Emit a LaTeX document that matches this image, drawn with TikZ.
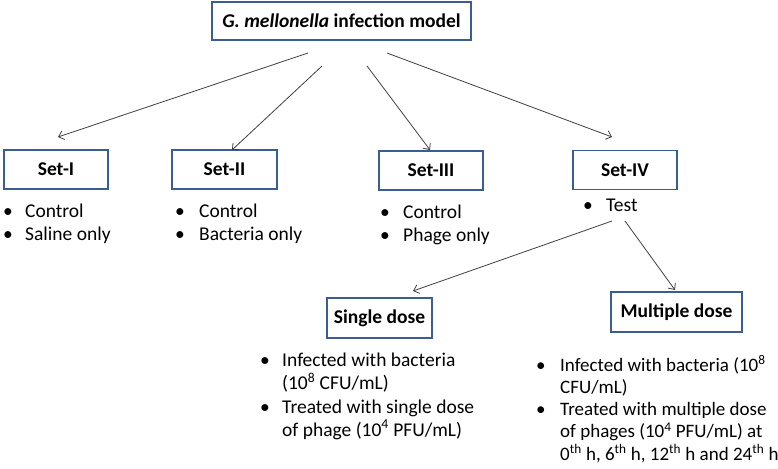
\documentclass[tikz,border=0pt]{standalone}
\usepackage{fontspec}
\setmainfont{Carlito}
\usetikzlibrary{arrows.meta}
\definecolor{boxblue}{RGB}{58,94,148}
\definecolor{arrowgray}{RGB}{64,64,64}
\tikzset{
  setbox/.style={draw=boxblue, line width=1.6pt, fill=white, inner sep=0pt, font=\fontsize{19.5}{23}\selectfont\bfseries},
  arr/.style={->, draw=arrowgray, line width=0.8pt},
  bullets/.style={anchor=base west, inner sep=0pt}
}
\newcommand{\blist}[2]{\begin{tabular}[t]{@{}p{#1}@{}l@{}}#2\end{tabular}}
\begin{document}
\begin{tikzpicture}[x=1pt, y=-1pt, >={Straight Barb[length=5pt,width=9pt]},
  font=\fontsize{19.5}{23.3}\selectfont]
\useasboundingbox (0,0) rectangle (778,468);
% Top box
\node[setbox, minimum width=259pt, minimum height=38pt] (title) at (341.5,21) {\textit{G. mellonella} infection model};
% The four sets
\node[setbox, minimum width=104pt, minimum height=39pt] (set1) at (56,169.5) {Set-I};
\node[setbox, minimum width=105pt, minimum height=39pt] (set2) at (224.5,169.5) {Set-II};
\node[setbox, minimum width=104pt, minimum height=39pt] (set3) at (431,170.5) {Set-III};
\node[setbox, minimum width=104pt, minimum height=39pt] (set4) at (625,170) {Set-IV};
% Bullet lists under the sets
\node[bullets] (list1) at (3,217) {\blist{22pt}{\textbullet & Control\\ \textbullet & Saline only}};
\node[bullets] (list2) at (175,217) {\blist{24pt}{\textbullet & Control\\ \textbullet & Bacteria only}};
\node[bullets] (list3) at (380,218) {\blist{23pt}{\textbullet & Control\\ \textbullet & Phage only}};
\node[bullets] (list4) at (583,211) {\blist{23pt}{\textbullet & Test}};
% Dose boxes
\node[setbox, minimum width=105pt, minimum height=40pt] (single) at (379.5,318) {Single dose};
\node[setbox, minimum width=131pt, minimum height=40pt] (multi) at (676.5,312) {Multiple dose};
% Dose lists
\node[bullets] (list5) at (260,366) {\blist{22pt}{\textbullet & Infected with bacteria\\ & (10\textsuperscript{8} CFU/mL)\\
  \textbullet & Treated with single dose\\ & of phage (10\textsuperscript{4} PFU/mL)}};
\node[bullets, font=\fontsize{19}{22.3}\selectfont] (list6) at (536,371) {\blist{24pt}{\textbullet & Infected with bacteria (10\textsuperscript{8}\\ & CFU/mL)\\
  \textbullet & Treated with multiple dose\\ & of phages (10\textsuperscript{4} PFU/mL) at\\
  & 0\textsuperscript{th} h, 6\textsuperscript{th} h, 12\textsuperscript{th} h and 24\textsuperscript{th} h}};
% Arrow ends
\coordinate (s1) at (308,53);  \coordinate (e1) at (58,137);
\coordinate (s2) at (322,66);  \coordinate (e2) at (232,150);
\coordinate (s3) at (367,66);  \coordinate (e3) at (430,150);
\coordinate (s4) at (387,53);  \coordinate (e4) at (612,137);
\coordinate (s5) at (612,221); \coordinate (e5) at (413,291);
\coordinate (s6) at (625,221); \coordinate (e6) at (675,290);
% Arrows
\draw[arr] (s1) -- (e1);
\draw[arr] (s2) -- (e2);
\draw[arr] (s3) -- (e3);
\draw[arr] (s4) -- (e4);
\draw[arr] (s5) -- (e5);
\draw[arr] (s6) -- (e6);
\end{tikzpicture}
\end{document}
